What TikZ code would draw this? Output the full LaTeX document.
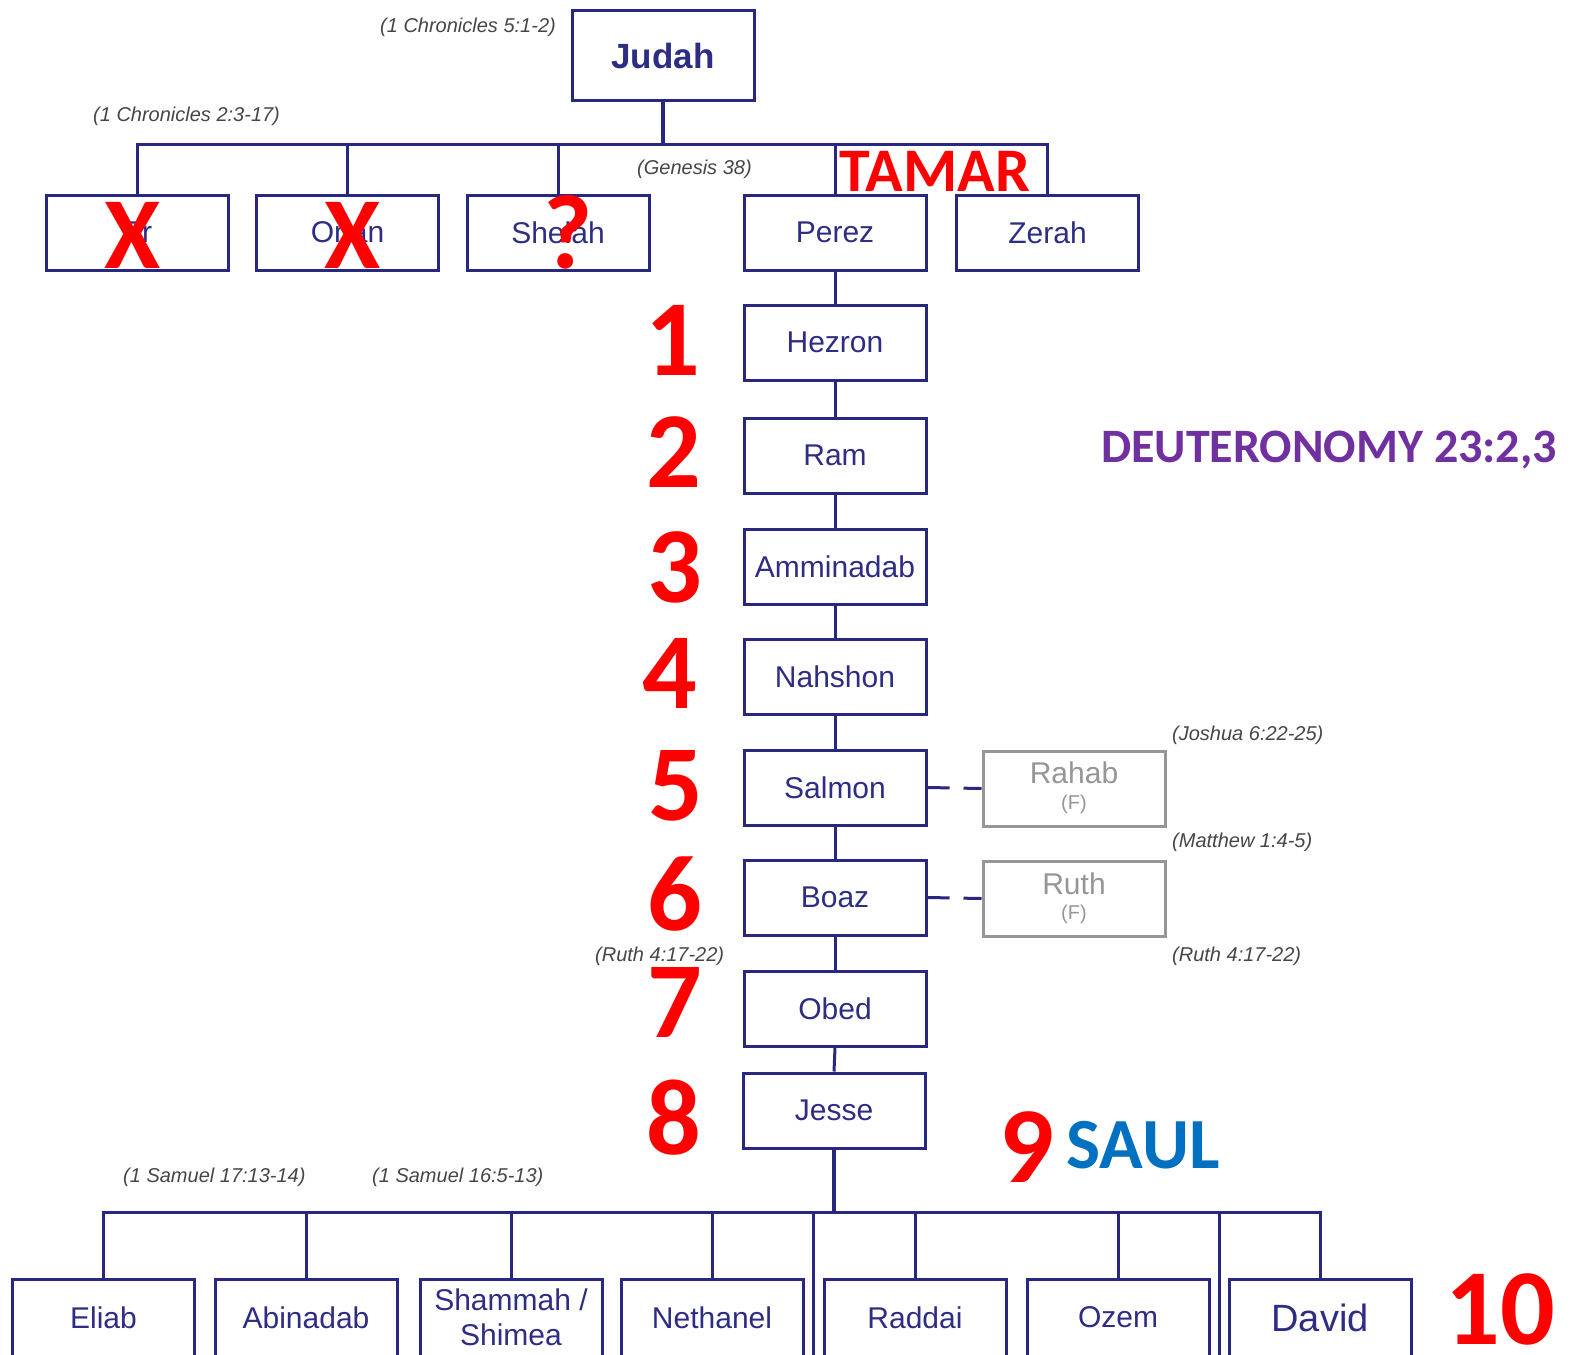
\documentclass[tikz,border=0pt]{standalone}
\usepackage{fontspec}
\setmainfont{Liberation Sans}
\newfontfamily\calfont{Carlito}
\definecolor{navy}{RGB}{40,40,128}
\definecolor{navytext}{RGB}{45,45,132}
\definecolor{refgray}{RGB}{70,70,70}
\definecolor{femgray}{RGB}{150,150,150}
\definecolor{markred}{RGB}{255,0,0}
\definecolor{saulblue}{RGB}{0,112,192}
\definecolor{deutpurple}{RGB}{112,48,160}
\begin{document}
\begin{tikzpicture}[x=1pt,y=-1pt,
  person/.style={draw=navy, line width=3pt, minimum width=182pt, minimum height=75pt, inner sep=0pt,
    text=navytext, font=\fontsize{30}{35}\selectfont, align=center},
  femalebox/.style={draw=femgray, line width=3pt, minimum width=182pt, minimum height=75pt, inner sep=0pt},
  femtext/.style={text=femgray, inner sep=0pt, font=\fontsize{30}{35}\selectfont},
  femsmall/.style={text=femgray, inner sep=0pt, font=\fontsize{20}{24}\selectfont},
  conn/.style={draw=navy, line width=3pt},
  dashconn/.style={draw=navy, line width=3pt, dash pattern=on 22pt off 14pt},
  refl/.style={text=refgray, inner sep=0pt, anchor=west, font=\itshape\fontsize{20}{24}\selectfont},
  bignum/.style={text=markred, inner sep=0pt, font=\calfont\bfseries\fontsize{108}{108}\selectfont},
  bigmark/.style={text=markred, inner sep=0pt, font=\calfont\bfseries\fontsize{102}{102}\selectfont}
]
\useasboundingbox (0,0) rectangle (1570,1354);
\fill[white] (0,0) rectangle (1570,1354);

% top generation
\node[person, minimum height=89pt, font=\bfseries\fontsize{35}{40}\selectfont] (Judah) at (663,55.5) {Judah};
\node[person] (Er) at (137,232.5) {Er};
\node[person] (Onan) at (347.5,232.5) {Onan};
\node[person] (Shelah) at (558,232.5) {Shelah};
\node[person] (Perez) at (835,232.5) {Perez};
\node[person] (Zerah) at (1047.5,232.5) {Zerah};

% line of descent
\node[person] (Hezron) at (835,342.5) {Hezron};
\node[person] (Ram) at (835,455.5) {Ram};
\node[person] (Amminadab) at (835,566.5) {Amminadab};
\node[person] (Nahshon) at (835,676.5) {Nahshon};
\node[person] (Salmon) at (835,787.5) {Salmon};
\node[person] (Boaz) at (835,897.5) {Boaz};
\node[person] (Obed) at (835,1008.5) {Obed};
\node[person] (Jesse) at (834,1110.5) {Jesse};

% wives
\node[femalebox] (Rahab) at (1074,788.5) {};
\node[femtext] (rahabname) at (1074,773) {Rahab};
\node[femsmall] (rahabf) at (1074,804) {(F)};
\node[femalebox] (Ruth) at (1074,898.5) {};
\node[femtext] (ruthname) at (1074,884) {Ruth};
\node[femsmall] (ruthf) at (1074,914) {(F)};

% sons of Jesse
\node[person, minimum height=77pt] (Eliab) at (103.5,1317.5) {Eliab};
\node[person, minimum height=77pt] (Abinadab) at (306,1317.5) {Abinadab};
\node[person, minimum height=77pt] (Shammah) at (511,1317.5) {Shammah /\\Shimea};
\node[person, minimum height=77pt] (Nethanel) at (712,1317.5) {Nethanel};
\node[person, minimum height=77pt] (Raddai) at (915,1317.5) {Raddai};
\node[person, minimum height=77pt] (Ozem) at (1118,1317.5) {Ozem};
\node[person, minimum height=77pt, font=\fontsize{38}{42}\selectfont] (David) at (1320,1317.5) {David};

% top connectors
\coordinate (topbar) at (663,144);
\draw[conn, line width=4pt] (Judah.south) -- (topbar);
\draw[conn] (Er.north) -- (Er.north |- topbar) -- (Zerah.north |- topbar) -- (Zerah.north);
\draw[conn] (Onan.north) -- (Onan.north |- topbar);
\draw[conn] (Shelah.north) -- (Shelah.north |- topbar);
\draw[conn] (Perez.north) -- (Perez.north |- topbar);

% descent connectors
\draw[conn] (Perez.south) -- (Hezron.north);
\draw[conn] (Hezron.south) -- (Ram.north);
\draw[conn] (Ram.south) -- (Amminadab.north);
\draw[conn] (Amminadab.south) -- (Nahshon.north);
\draw[conn] (Nahshon.south) -- (Salmon.north);
\draw[conn] (Salmon.south) -- (Boaz.north);
\draw[conn] (Boaz.south) -- (Obed.north);
\draw[conn] (Obed.south) -- (Jesse.north);

% marriages
\draw[dashconn] (Salmon.east) -- (Rahab.west);
\draw[dashconn] (Boaz.east) -- (Ruth.west);

% bottom connectors
\coordinate (botbar) at (834,1212);
\draw[conn, line width=3.5pt] (Jesse.south) -- (botbar);
\draw[conn] (Eliab.north) -- (Eliab.north |- botbar) -- (David.north |- botbar) -- (David.north);
\draw[conn] (Abinadab.north) -- (Abinadab.north |- botbar);
\draw[conn] (Shammah.north) -- (Shammah.north |- botbar);
\draw[conn] (Nethanel.north) -- (Nethanel.north |- botbar);
\draw[conn] (Raddai.north) -- (Raddai.north |- botbar);
\draw[conn] (Ozem.north) -- (Ozem.north |- botbar);
\coordinate (exA) at (813,1212);
\coordinate (exAb) at (813,1360);
\coordinate (exB) at (1219,1212);
\coordinate (exBb) at (1219,1360);
\draw[conn] (exA) -- (exAb);
\draw[conn] (exB) -- (exBb);

% references
\node[refl] (r1) at (380,27) {(1 Chronicles 5:1-2)};
\node[refl] (r2) at (93,116) {(1 Chronicles 2:3-17)};
\node[refl] (r3) at (637,169) {(Genesis 38)};
\node[refl] (r4) at (1172,735) {(Joshua 6:22-25)};
\node[refl] (r5) at (1172,842) {(Matthew 1:4-5)};
\node[refl] (r6) at (1172,956) {(Ruth 4:17-22)};
\node[refl] (r7) at (595,956) {(Ruth 4:17-22)};
\node[refl] (r8) at (123,1177) {(1 Samuel 17:13-14)};
\node[refl] (r9) at (372,1177) {(1 Samuel 16:5-13)};

% annotations
\node[text=markred, inner sep=0pt, font=\calfont\bfseries\fontsize{62}{62}\selectfont] (tamar) at (935,171) {TAMAR};
\node[bigmark] (xer) at (133,235) {X};
\node[bigmark] (xonan) at (353,235) {X};
\node[bigmark, font=\calfont\bfseries\fontsize{106}{106}\selectfont] (qshelah) at (568,232) {?};
\node[bignum] (n1) at (673,340) {1};
\node[bignum] (n2) at (674,452) {2};
\node[bignum] (n3) at (675,567) {3};
\node[bignum] (n4) at (670,673) {4};
\node[bignum] (n5) at (676,786) {5};
\node[bignum] (n6) at (675,894) {6};
\node[bignum] (n7) at (675,1002) {7};
\node[bignum] (n8) at (674,1118) {8};
\node[bignum] (n9) at (1027,1147) {9};
\node[text=saulblue, inner sep=0pt, font=\calfont\bfseries\fontsize{72}{72}\selectfont] (saul) at (1143,1145) {SAUL};
\node[bignum] (n10) at (1500,1309) {10};
\node[text=deutpurple, inner sep=0pt, font=\calfont\bfseries\fontsize{48}{48}\selectfont] (deut) at (1329,450) {DEUTERONOMY 23:2,3};
\end{tikzpicture}
\end{document}
